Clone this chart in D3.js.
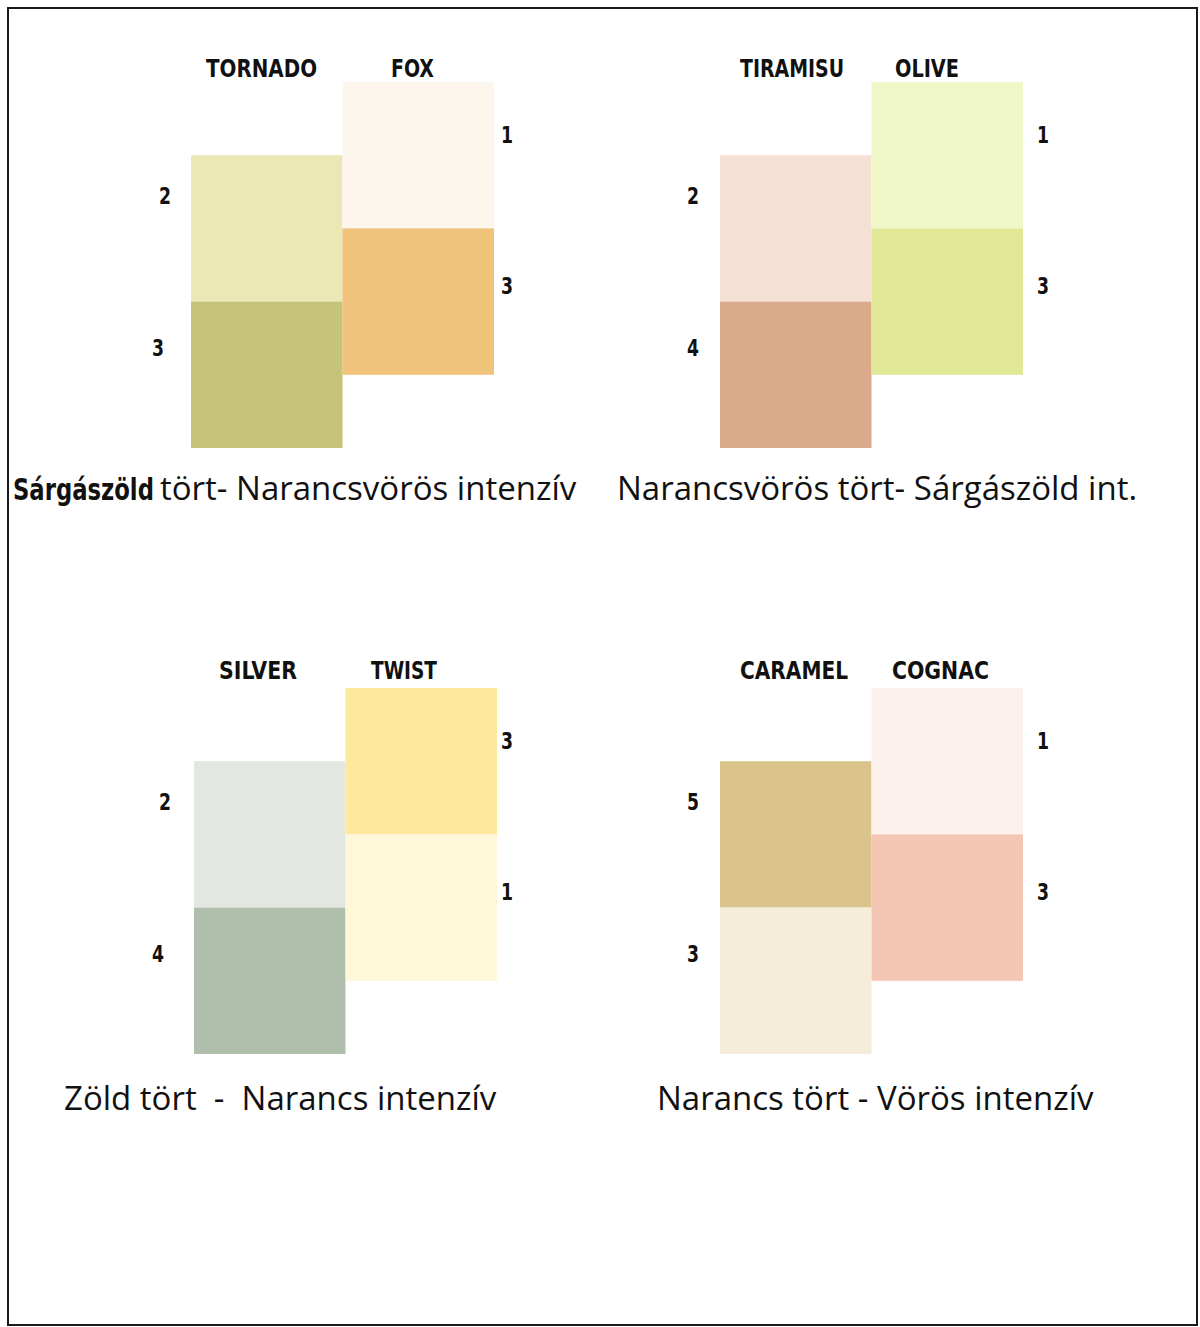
<!DOCTYPE html>
<html><head><meta charset="utf-8">
<script src="https://cdn.jsdelivr.net/npm/d3@7"></script>
<style>html,body{margin:0;padding:0;background:#fff;}svg{display:block;}</style>
</head><body>
<svg id="chart" width="1200" height="1327"></svg>
<script>
// ---- data ----
const panelCaptionsBold = ["Sárgászöld", "", "", ""];
const panelCaptions = ["tört- Narancsvörös intenzív", "Narancsvörös tört- Sárgászöld int.", "Zöld tört  -  Narancs intenzív", "Narancs tört - Vörös intenzív"];
const leftNames = ["TORNADO", "TIRAMISU", "SILVER", "CARAMEL"];
const rightNames = ["FOX", "OLIVE", "TWIST", "COGNAC"];
const leftValues = [[2, 3], [2, 4], [2, 4], [5, 3]];
const rightValues = [[1, 3], [1, 3], [3, 1], [1, 3]];
const leftColors = [["#ebe8b5", "#c5c479"], ["#f5e1d4", "#dbaa8a"], ["#e2e7e1", "#b0bfab"], ["#dac48c", "#f5ecd9"]];
const rightColors = [["#fdf6ec", "#f0c37a"], ["#eff6c8", "#e0e796"], ["#fde99c", "#fef7d8"], ["#fdf1ee", "#f5c5b3"]];

// ---- layout ----
const layout = [
  {x0: 191, top: 82, labL: 261.5, labR: 412.5, wL: 111, wR: 43, numL: [165, 158], numR: 507, capX: 13, capY: 500, labY: 77},
  {x0: 720, top: 82, labL: 792, labR: 927, wL: 104, wR: 64, numL: [693, 693], numR: 1043, capX: 617, capY: 500, labY: 77},
  {x0: 194, top: 688, labL: 258, labR: 404, wL: 78, wR: 66, numL: [165, 158], numR: 507, capX: 64, capY: 1110, labY: 679},
  {x0: 720, top: 688, labL: 794, labR: 940.5, wL: 108, wR: 97, numL: [693, 693], numR: 1043, capX: 657, capY: 1110, labY: 679}
];
const boldCapWidth = 141, boldCapGap = 6;

const svg = d3.select("#chart");
svg.append("rect").attr("x", 8).attr("y", 8).attr("width", 1189).attr("height", 1317)
  .attr("fill", "#fff").attr("stroke", "#1a1a1a").attr("stroke-width", 2);

const labelFont = "'Liberation Sans Narrow','DejaVu Sans Condensed','Liberation Sans',sans-serif";
const capFont = "'Open Sans','Noto Sans',sans-serif";

layout.forEach((L, i) => {
  const g = svg.append("g");
  const x = d3.scaleBand().domain([0, 1]).range([L.x0, L.x0 + 303]).padding(0);
  const y = d3.scaleLinear().domain([0, 5]).range([L.top, L.top + 366]);
  const cells = [];
  leftValues[i].forEach((v, r) => cells.push({col: 0, row: r, start: 1 + 2 * r, v, c: leftColors[i][r]}));
  rightValues[i].forEach((v, r) => cells.push({col: 1, row: r, start: 2 * r, v, c: rightColors[i][r]}));

  g.selectAll("rect.sw").data(cells).join("rect").attr("class", "sw")
    .attr("x", d => x(d.col)).attr("width", x.bandwidth())
    .attr("y", d => y(d.start)).attr("height", d => y(d.start + 2) - y(d.start))
    .attr("fill", d => d.c);

  g.selectAll("text.num").data(cells).join("text").attr("class", "num")
    .attr("x", d => d.col === 0 ? L.numL[d.row] : L.numR)
    .attr("y", d => y(d.start) + (d.col === 0 ? 49 + d.row * 5 : 61 + d.row * 5))
    .attr("text-anchor", "middle")
    .attr("font-family", labelFont).attr("font-weight", "bold").attr("font-size", 23)
    .attr("textLength", 12).attr("lengthAdjust", "spacingAndGlyphs")
    .attr("fill", "#111").text(d => d.v);

  [[leftNames[i], L.labL, L.wL], [rightNames[i], L.labR, L.wR]].forEach(([t, cx, w]) => {
    g.append("text").attr("x", cx).attr("y", L.labY).attr("text-anchor", "middle")
      .attr("font-family", labelFont).attr("font-weight", "bold").attr("font-size", 25)
      .attr("textLength", w).attr("lengthAdjust", "spacingAndGlyphs")
      .attr("fill", "#111").text(t);
  });

  let cx = L.capX;
  if (panelCaptionsBold[i]) {
    const bt = g.append("text").attr("x", 0).attr("y", 0)
      .attr("font-family", labelFont).attr("font-weight", "bold").attr("font-size", 30)
      .attr("fill", "#111").text(panelCaptionsBold[i]);
    const nat = bt.node().getComputedTextLength();
    const s = boldCapWidth / nat;
    bt.attr("transform", `translate(${cx},${L.capY}) scale(${s},1)`);
    cx += boldCapWidth + boldCapGap;
  }
  g.append("text").attr("x", cx).attr("y", L.capY)
    .attr("font-family", capFont).attr("font-size", 33).attr("fill", "#111")
    .style("white-space", "pre").text(panelCaptions[i]);
});
</script>
</body></html>
